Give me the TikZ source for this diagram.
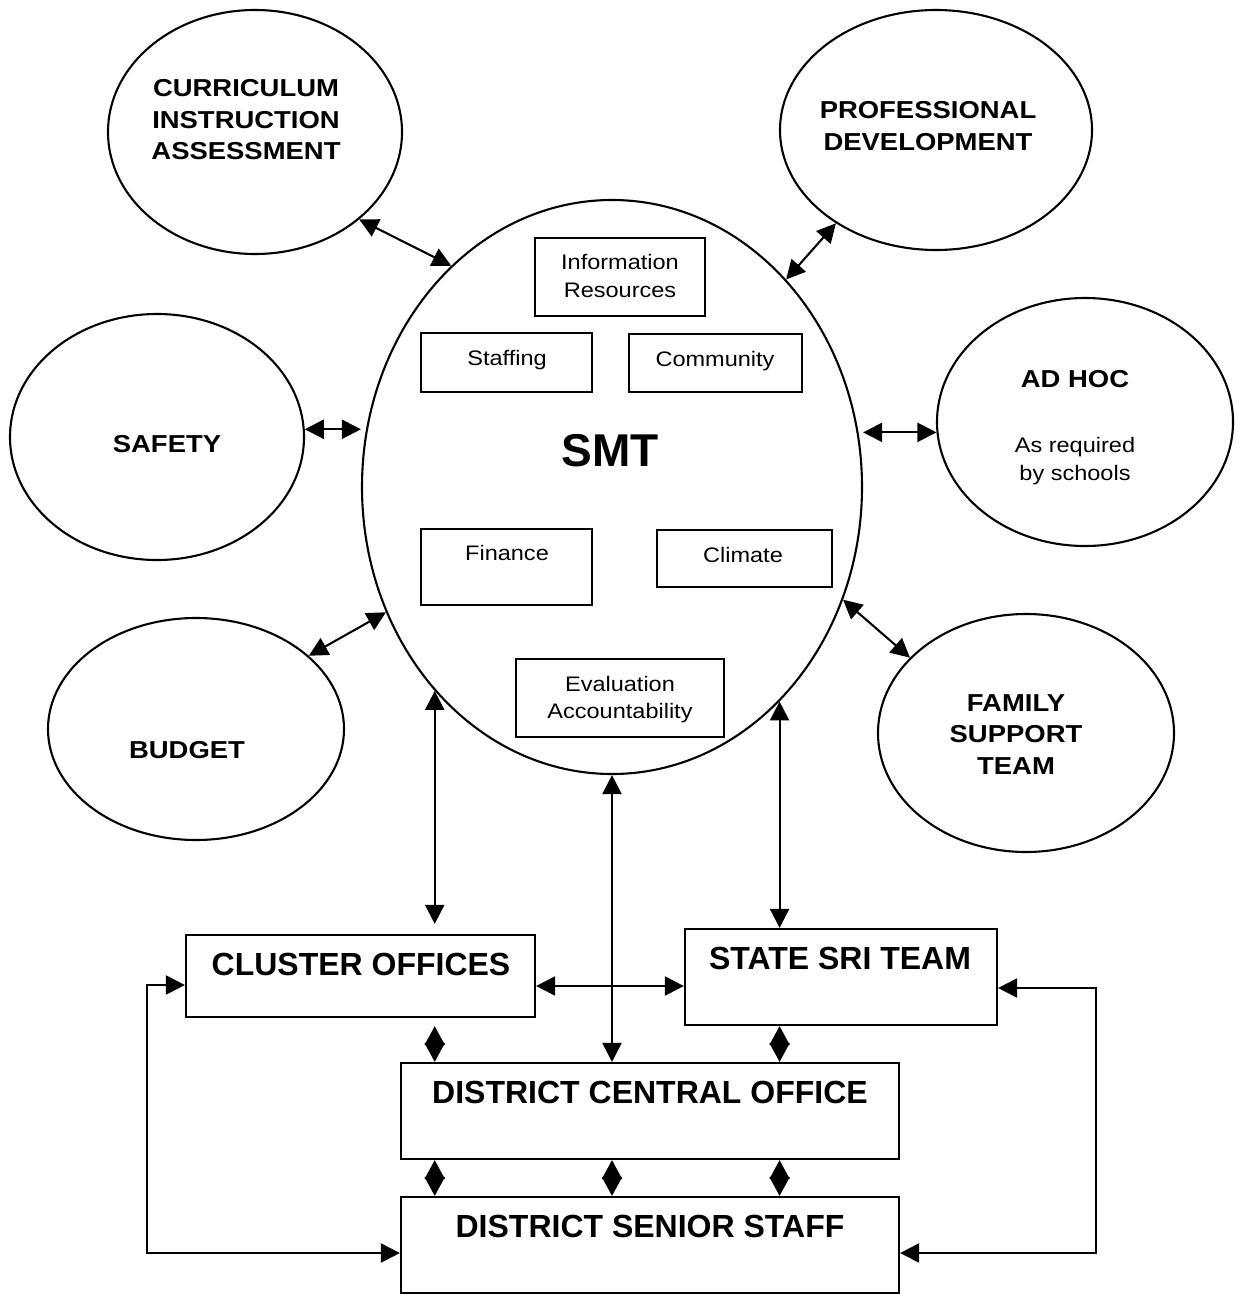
\documentclass[tikz,border=0pt]{standalone}
\usepackage{fontspec}
\setmainfont{Liberation Sans}
\newfontfamily\widefont{Liberation Sans}[FakeStretch=1.12]
\usetikzlibrary{arrows.meta,shapes.geometric}

\begin{document}
\begin{tikzpicture}[x=1pt,y=-1pt,
  oval/.style={draw, ellipse, inner sep=0pt, line width=2.1pt},
  panel/.style={draw, rectangle, inner sep=0pt, line width=2.2pt},
  title/.style={font=\widefont\bfseries\fontsize{24.5}{31.5}\selectfont, align=center, inner sep=0pt},
  note/.style={font=\widefont\fontsize{21}{27.5}\selectfont, align=center, inner sep=0pt},
  office/.style={font=\bfseries\fontsize{32}{36}\selectfont, inner sep=0pt, anchor=base},
  link/.style={{Triangle[length=19pt,width=19pt]}-{Triangle[length=19pt,width=19pt]}, line width=2.1pt},
  joint/.style={{Triangle[length=19pt,width=20pt]}-{Triangle[length=19pt,width=20pt]}, line width=2.1pt},
]
\fill[white] (0,0) rectangle (1236,1298);
\useasboundingbox (0,0) rectangle (1236,1298);

% central team and the surrounding areas
\node[oval, minimum width=500pt, minimum height=574pt] (smt) at (612,487) {};
\node[oval, minimum width=294pt, minimum height=244pt] (cia) at (255,132) {};
\node[oval, minimum width=312pt, minimum height=240pt] (prof) at (936,130) {};
\node[oval, minimum width=294pt, minimum height=246pt] (safety) at (157,437) {};
\node[oval, minimum width=296pt, minimum height=248pt] (adhoc) at (1085,422) {};
\node[oval, minimum width=296pt, minimum height=222pt] (budget) at (196,729) {};
\node[oval, minimum width=296pt, minimum height=238pt] (family) at (1026,733) {};

\node[title] (ciaT) at (246,120) {CURRICULUM\\INSTRUCTION\\ASSESSMENT};
\node[title] (profT) at (928,126) {PROFESSIONAL\\DEVELOPMENT};
\node[title, anchor=base] (safetyT) at (167,452.8) {SAFETY};
\node[title, anchor=base] (adhocT) at (1075,387.8) {AD HOC};
\node[note] (adhocN) at (1075,461) {As required\\by schools};
\node[title, anchor=base] (budgetT) at (187,758.8) {BUDGET};
\node[title] (familyT) at (1016,734.5) {FAMILY\\SUPPORT\\TEAM};
\node[font=\bfseries\fontsize{46}{50}\selectfont, inner sep=0pt, anchor=base] (smtT) at (610,466.5) {SMT};

% functions inside the team
\node[panel, minimum width=170pt, minimum height=78pt] (info) at (620,277) {};
\node[panel, minimum width=171pt, minimum height=59pt] (staff) at (506.5,362.5) {};
\node[panel, minimum width=173pt, minimum height=58pt] (comm) at (715.5,363) {};
\node[panel, minimum width=171pt, minimum height=76pt] (fin) at (506.5,567) {};
\node[panel, minimum width=175pt, minimum height=57pt] (clim) at (744.5,558.5) {};
\node[panel, minimum width=208pt, minimum height=78pt] (eval) at (620,698) {};

\node[note] (infoT) at (620,276) {Information\\Resources};
\node[note, anchor=base] (staffT) at (507,365.5) {Staffing};
\node[note, anchor=base] (commT) at (715,366.5) {Community};
\node[note, anchor=base] (finT) at (507,560.5) {Finance};
\node[note, anchor=base] (climT) at (743,562.5) {Climate};
\node[note] (evalT) at (620,699.5) {Evaluation\\Accountability};

% district offices
\node[panel, minimum width=349pt, minimum height=82pt] (cluster) at (360.5,976) {};
\node[panel, minimum width=312pt, minimum height=96pt] (state) at (841,977) {};
\node[panel, minimum width=498pt, minimum height=96pt] (dco) at (650,1111) {};
\node[panel, minimum width=498pt, minimum height=96pt] (dss) at (650,1245) {};

\node[office] (clusterT) at (361,975.5) {CLUSTER OFFICES};
\node[office] (stateT) at (840,969.5) {STATE SRI TEAM};
\node[office] (dcoT) at (650,1103.5) {DISTRICT CENTRAL OFFICE};
\node[office] (dssT) at (650,1237.5) {DISTRICT SENIOR STAFF};

% links between the team and the areas
\draw[link] (cia.-40) -- (smt.126);
\draw[link] (prof.223.5) -- (smt.50.5);
\draw[link] (safety.3) -- (smt.west |- safety.3);
\draw[link] (adhoc.184) -- (smt.east |- adhoc.184);
\draw[link] (budget.33) -- (smt.209);
\draw[link] (family.147) -- (smt.334);

% links down to the offices
\draw[link, shorten >=10pt] (smt.229.83) -- (smt.229.83 |- cluster.north);
\draw[link] (smt.south) -- (smt.south |- dco.north);
\draw[link] (smt.308.63) -- (smt.308.63 |- state.north);
\draw[link] ([yshift=-10pt]cluster.east) -- ([yshift=-10pt]cluster.east -| state.west);

% links between the offices
\draw[joint, shorten <=8pt] (smt.229.83 |- cluster.south) -- (smt.229.83 |- dco.north);
\draw[joint] (smt.308.63 |- state.south) -- (smt.308.63 |- dco.north);
\draw[joint] (smt.229.83 |- dco.south) -- (smt.229.83 |- dss.north);
\draw[joint] (smt.south |- dco.south) -- (smt.south |- dss.north);
\draw[joint] (smt.308.63 |- dco.south) -- (smt.308.63 |- dss.north);

\draw[link] ([yshift=-9pt]cluster.west) -- ++(-38,0) |- ([yshift=-8pt]dss.west);
\draw[link] ([yshift=-11pt]state.east) -- ++(98,0) |- ([yshift=-8pt]dss.east);
\end{tikzpicture}
\end{document}
